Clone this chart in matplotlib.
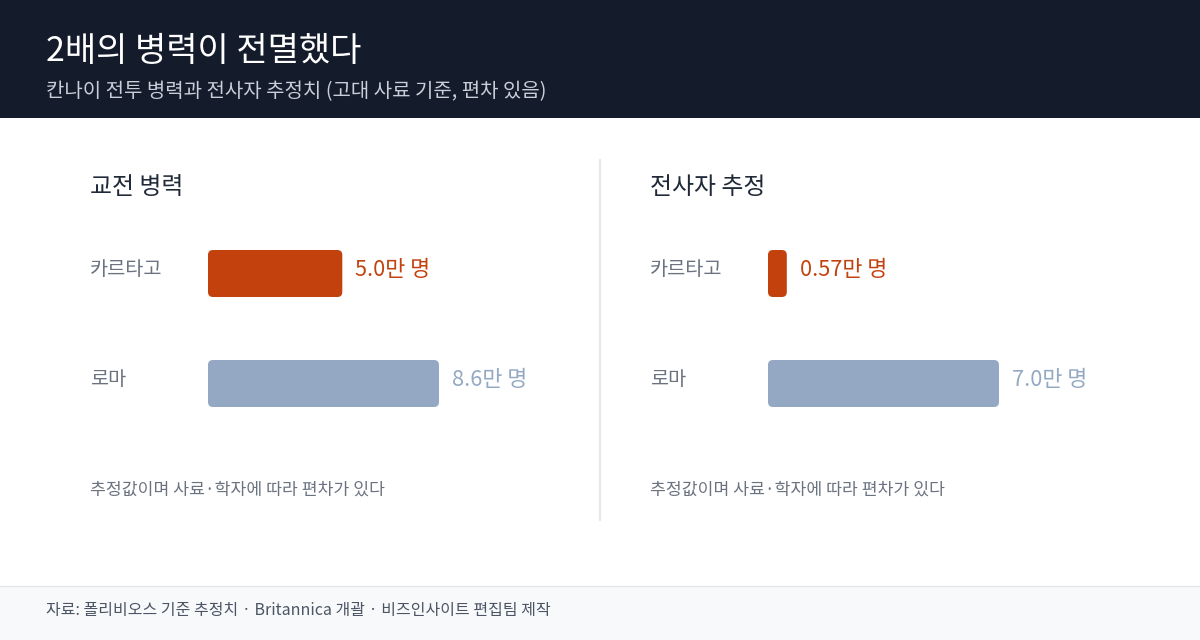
import matplotlib
matplotlib.use('Agg')
import matplotlib.pyplot as plt
from matplotlib.patches import FancyBboxPatch, Rectangle
from matplotlib.lines import Line2D

plt.rcParams['font.family'] = ['Noto Sans CJK KR', 'DejaVu Sans']

# ---------------- data ----------------
title = "2배의 병력이 전멸했다"
subtitle = "칸나이 전투 병력과 전사자 추정치 (고대 사료 기준, 편차 있음)"
panel_titles = ["교전 병력", "전사자 추정"]
categories = ["카르타고", "로마"]
strength = [5.0, 8.6]        # 만 명
casualties = [0.57, 7.0]     # 만 명
strength_labels = ["5.0만 명", "8.6만 명"]
casualty_labels = ["0.57만 명", "7.0만 명"]
note = "추정값이며 사료·학자에 따라 편차가 있다"
source = "자료: 폴리비오스 기준 추정치 · Britannica 개괄 · 비즈인사이트 편집팀 제작"

# ---------------- style ----------------
HEADER = "#141b2b"
ORANGE = "#c2410c"
BLUE = "#94a8c4"
bar_colors = [ORANGE, BLUE]
label_colors = [ORANGE, BLUE]

W, H = 1200, 640
DPI = 100
fig = plt.figure(figsize=(W / DPI, H / DPI), dpi=DPI)
fig.patch.set_facecolor("white")


def fx(px):
    return px / W


def fy(py):
    return 1 - py / H


# header band
fig.add_artist(Rectangle((0, fy(118)), 1, 118 / H, transform=fig.transFigure,
                         facecolor=HEADER, edgecolor="none", zorder=0))
fig.text(fx(46), fy(51), title, color="white", fontsize=24.5, va="center", ha="left")
fig.text(fx(46), fy(92), subtitle, color="#c9ced8", fontsize=14.4, va="center", ha="left")

# footer band
fig.add_artist(Rectangle((0, 0), 1, 54 / H, transform=fig.transFigure,
                         facecolor="#f8f9fb", edgecolor="none", zorder=0))
fig.add_artist(Line2D([0, 1], [fy(586), fy(586)], transform=fig.transFigure,
                      color="#e5e7eb", lw=1))
fig.text(fx(46), fy(611), source, color="#4b5563", fontsize=11.5, va="center", ha="left")

# divider
fig.add_artist(Line2D([fx(600), fx(600)], [fy(160), fy(520)], transform=fig.transFigure,
                      color="#e5e7eb", lw=1.6))

panels = [
    (panel_titles[0], strength, strength_labels, 90, 208),
    (panel_titles[1], casualties, casualty_labels, 650, 768),
]

BAR_W_PX = 231
ROW_PX = 110
for ptitle, values, vlabels, text_x, bar_x in panels:
    fig.text(fx(text_x), fy(188), ptitle, color="#1f2937", fontsize=17.2,
             va="center", ha="left")
    ax = fig.add_axes([fx(bar_x), fy(438.5), BAR_W_PX / W, 2 * ROW_PX / H])
    ax.set_xlim(0, max(values))
    ax.set_ylim(1.5, -0.5)
    ax.axis("off")
    ypos = list(range(len(categories)))
    bars = ax.barh(ypos, values, height=47 / ROW_PX, color=bar_colors)
    # rounded corners
    p0 = ax.transData.transform((0, 0))
    p1 = ax.transData.transform((1, 1))
    pxx = abs(p1[0] - p0[0])
    pxy = abs(p1[1] - p0[1])
    r = 5 / pxx
    for b, c in zip(bars, bar_colors):
        fb = FancyBboxPatch((b.get_x(), b.get_y()), b.get_width(), b.get_height(),
                            boxstyle=f"round,pad=0,rounding_size={r}",
                            mutation_aspect=pxx / pxy,
                            facecolor=c, edgecolor="none")
        ax.add_patch(fb)
        b.set_visible(False)
    for i, (cat, v, vl) in enumerate(zip(categories, values, vlabels)):
        ax.annotate(cat, xy=(fx(text_x), i), xycoords=("figure fraction", "data"),
                    xytext=(0, 3.2), textcoords="offset points",
                    color="#6b7280", fontsize=14.2, va="center", ha="left",
                    annotation_clip=False)
        ax.annotate(vl, xy=(v, i), xytext=(9.4, 2.6), textcoords="offset points",
                    color=label_colors[i], fontsize=15.7, va="center", ha="left",
                    annotation_clip=False)
    fig.text(fx(text_x), fy(490), note, color="#6b7280", fontsize=12.4,
             va="center", ha="left")

fig.savefig("out.png", dpi=DPI, facecolor=fig.get_facecolor())
